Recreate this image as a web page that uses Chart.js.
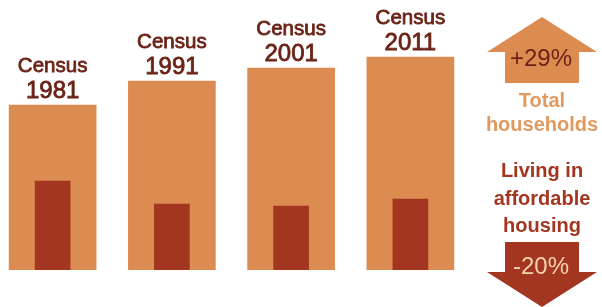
<!DOCTYPE html>
<html>
<head>
<meta charset="utf-8">
<script src="https://cdn.jsdelivr.net/npm/chart.js@4/dist/chart.umd.min.js"></script>
<style>
  html, body { margin: 0; padding: 0; background: #fff; overflow: hidden; }
  #wrap { position: relative; width: 602px; height: 307px; overflow: hidden; }
  #chart { position: absolute; left: -7px; top: 0; }
</style>
</head>
<body>
<div id="wrap"><canvas id="chart" width="609" height="307"></canvas></div>
<script>
// Datos (índice relativo)
const years = ['1981', '1991', '2001', '2011'];
const totalHouseholds = [165, 189, 202, 213];
const affordableHousing = [89, 66, 64, 71];
const changeLabels = ['+29%', '-20%'];
const sideTextTotal = ['Total', 'households'];
const sideTextAffordable = ['Living in', 'affordable', 'housing'];

const ORANGE = '#DC8B51';
const RED = '#A33620';
const DARK = '#6B2317';
const FONT = '"Liberation Sans", Arial, sans-serif';

// texto con peso "medium" (relleno + trazo fino)
function mediumText(ctx, text, x, y) {
    ctx.fillText(text, x, y);
    ctx.strokeText(text, x, y);
}

// Etiquetas "Census AAAA" encima de cada barra
const censusLabels = {
    id: 'censusLabels',
    afterDatasetsDraw(chart) {
        const ctx = chart.ctx;
        const meta = chart.getDatasetMeta(1);
        ctx.save();
        ctx.fillStyle = DARK;
        ctx.strokeStyle = DARK;
        ctx.lineWidth = 0.8;
        ctx.textAlign = 'center';
        ctx.textBaseline = 'alphabetic';
        meta.data.forEach((bar, i) => {
            ctx.font = '20.5px ' + FONT;
            mediumText(ctx, 'Census', bar.x, bar.y - 33);
            ctx.font = '24px ' + FONT;
            mediumText(ctx, years[i], bar.x, bar.y - 7);
        });
        ctx.restore();
    }
};

// Panel derecho con flechas de variación
const changePanel = {
    id: 'changePanel',
    afterDraw(chart) {
        const ctx = chart.ctx;
        const cx = chart.chartArea.right + 72;
        ctx.save();

        // flecha hacia arriba
        ctx.fillStyle = ORANGE;
        ctx.beginPath();
        ctx.moveTo(cx, 17);
        ctx.lineTo(cx + 55, 52);
        ctx.lineTo(cx + 37, 52);
        ctx.lineTo(cx + 37, 83);
        ctx.lineTo(cx - 37, 83);
        ctx.lineTo(cx - 37, 52);
        ctx.lineTo(cx - 55, 52);
        ctx.closePath();
        ctx.fill();

        // flecha hacia abajo
        ctx.fillStyle = RED;
        ctx.beginPath();
        ctx.moveTo(cx - 37, 242);
        ctx.lineTo(cx + 37, 242);
        ctx.lineTo(cx + 37, 272);
        ctx.lineTo(cx + 55, 272);
        ctx.lineTo(cx, 307);
        ctx.lineTo(cx - 55, 272);
        ctx.lineTo(cx - 37, 272);
        ctx.closePath();
        ctx.fill();

        ctx.textAlign = 'center';
        ctx.font = '24px ' + FONT;
        ctx.fillStyle = DARK;
        ctx.fillText(changeLabels[0], cx - 1, 66);
        ctx.fillStyle = '#F6D2A8';
        ctx.fillText(changeLabels[1], cx - 1, 274);

        ctx.font = 'bold 20px ' + FONT;
        ctx.fillStyle = '#E3995E';
        ctx.fillText(sideTextTotal[0], cx, 107);
        ctx.fillText(sideTextTotal[1], cx, 131);

        ctx.fillStyle = RED;
        ctx.fillText(sideTextAffordable[0], cx, 177);
        ctx.fillText(sideTextAffordable[1], cx, 205);
        ctx.fillText(sideTextAffordable[2], cx, 232);

        ctx.restore();
    }
};

new Chart(document.getElementById('chart'), {
    type: 'bar',
    data: {
        labels: years,
        datasets: [{
            label: 'Living in affordable housing',
            data: affordableHousing,
            backgroundColor: RED,
            barThickness: 35,
            grouped: false,
            order: 1
        }, {
            label: 'Total households',
            data: totalHouseholds,
            backgroundColor: ORANGE,
            barThickness: 87,
            grouped: false,
            order: 2
        }]
    },
    options: {
        responsive: false,
        animation: false,
        layout: { padding: { top: 0, bottom: 37, left: 0, right: 132 } },
        plugins: {
            legend: { display: false },
            tooltip: { enabled: false }
        },
        scales: {
            x: { display: false },
            y: { display: false, min: 0, max: 270 }
        }
    },
    plugins: [censusLabels, changePanel]
});
</script>
</body>
</html>
